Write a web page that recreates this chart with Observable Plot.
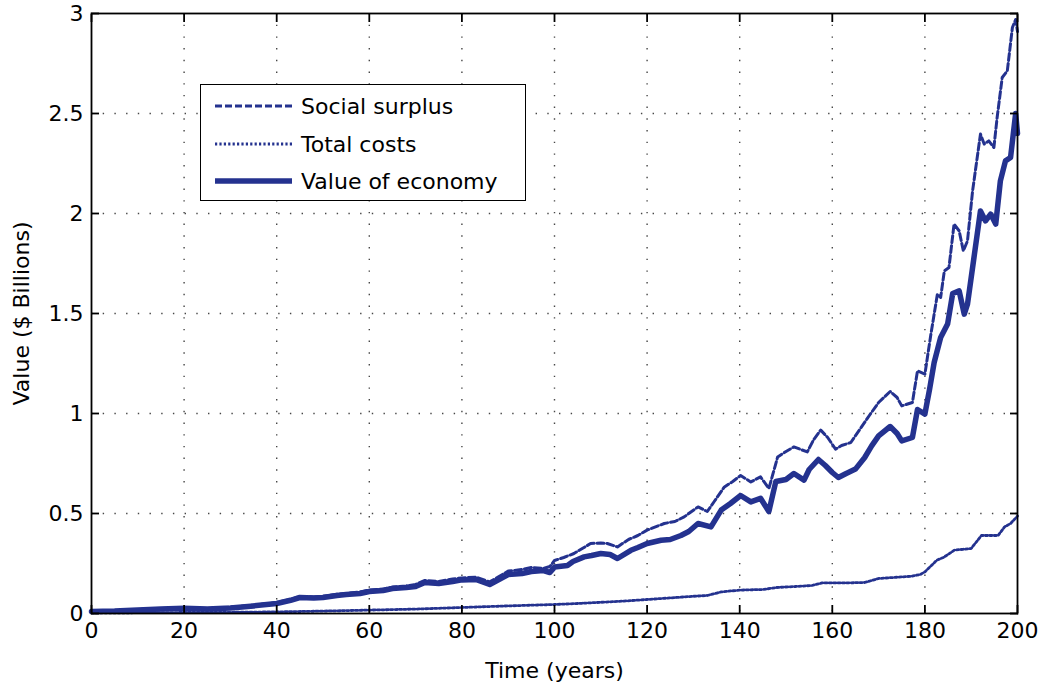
<!DOCTYPE html>
<html>
<head>
<meta charset="utf-8">
<script src="https://cdn.jsdelivr.net/npm/d3@7"></script>
<script src="https://cdn.jsdelivr.net/npm/@observablehq/plot@0.6"></script>
<style>
  html, body { margin: 0; padding: 0; background: #fff; }
  #wrap { position: relative; width: 1046px; height: 685px; font-family: "DejaVu Sans", "Liberation Sans", Arial, sans-serif; }
  #legend { position: absolute; left: 200px; top: 84px; width: 326px; height: 117px; border: 1.8px solid #000; background: #fff; box-sizing: border-box; }
  #legend .row { position: absolute; left: 0; height: 30px; display: flex; align-items: center; font-size: 22px; color: #000; white-space: nowrap; }
  #legend svg { margin-left: 14px; margin-right: 9px; }
</style>
</head>
<body>
<div id="wrap"></div>
<script>
// ---- data ----
const seriesNames = ["Social surplus", "Total costs", "Value of economy"];
const lineColor = "#24328f";

const xTicks = [0, 20, 40, 60, 80, 100, 120, 140, 160, 180, 200];
const yTicks = [0, 0.5, 1, 1.5, 2, 2.5, 3];

const yearsSurplus = [0,5,10,15,20,25,30,35,40,43,45,48,50,53,55,58,60,63,65,68,70,72,75,78,80,83,86,88,90,93,95,97.6,99,100,102,104.2,106,107.8,110,111.4,113.6,116,118,120,123.7,126,128,131,133,134.5,136.7,138.5,140.2,142.4,144.5,146.3,148.2,150,151.7,154.6,156,157.5,159,160.7,162,164,166,168,170,172.5,174,175,177.3,178.4,180,181.3,182.7,183.4,184.2,185.2,186.3,187.4,188.3,189.2,190.3,192,192.8,193.8,194.9,195.6,196.7,197.8,198.9,199.6,200];
const valuesSurplus = [0.012,0.014,0.02,0.025,0.03,0.025,0.032,0.042,0.055,0.07,0.085,0.083,0.086,0.096,0.1,0.108,0.117,0.122,0.132,0.138,0.145,0.165,0.16,0.172,0.178,0.182,0.158,0.185,0.212,0.22,0.23,0.225,0.235,0.265,0.28,0.3,0.325,0.35,0.352,0.35,0.333,0.37,0.39,0.417,0.45,0.46,0.483,0.533,0.51,0.56,0.633,0.66,0.69,0.658,0.683,0.625,0.783,0.81,0.833,0.808,0.87,0.917,0.88,0.822,0.84,0.855,0.922,0.99,1.055,1.11,1.08,1.038,1.055,1.213,1.197,1.397,1.597,1.58,1.713,1.73,1.947,1.913,1.813,1.863,2.113,2.397,2.347,2.363,2.33,2.48,2.68,2.713,2.93,2.97,2.91];

const yearsCosts = [0,10,20,30,40,50,60,70,80,90,100,105,110,115,120,125,130,133,136,140,145,148,152,155.6,157.8,163,167,170,177,179,180,182.6,184,186.4,190,192.2,195.8,197.2,198.5,200];
const valuesCosts = [0.003,0.004,0.005,0.006,0.008,0.012,0.017,0.022,0.03,0.038,0.045,0.05,0.056,0.062,0.07,0.078,0.086,0.09,0.108,0.117,0.12,0.13,0.135,0.14,0.153,0.153,0.155,0.175,0.186,0.195,0.208,0.267,0.28,0.317,0.325,0.39,0.39,0.433,0.45,0.487];

const yearsEconomy = [0,5,10,15,20,25,30,35,40,43,45,48,50,53,55,58,60,63,65,68,70,72,75,78,80,83,86,88,90,93,95,97.6,99,100,102.8,104,106.4,108,110,112,113.6,116.5,118,120,123,125,127.3,129,131,133.8,136,138,140.2,142.4,144.5,146.3,147.8,150,151.7,153.9,155,157,158.5,160,161.3,163,165,167,168.5,170,172.5,174,175,177.3,178.4,180,181,182,183.4,184.9,186,187.4,188.5,189.2,190.6,192,193.1,194.2,195.3,196.3,197.4,198.5,199.6,200];
const valuesEconomy = [0.01,0.012,0.018,0.022,0.026,0.022,0.028,0.038,0.05,0.066,0.08,0.078,0.08,0.09,0.095,0.1,0.11,0.115,0.125,0.13,0.135,0.155,0.15,0.16,0.168,0.17,0.145,0.17,0.195,0.2,0.21,0.215,0.205,0.232,0.24,0.26,0.283,0.29,0.3,0.295,0.275,0.316,0.33,0.35,0.366,0.37,0.39,0.41,0.45,0.433,0.517,0.55,0.59,0.558,0.576,0.51,0.66,0.67,0.7,0.667,0.72,0.77,0.74,0.705,0.68,0.7,0.722,0.78,0.838,0.888,0.935,0.9,0.863,0.88,1.02,0.997,1.12,1.255,1.38,1.447,1.6,1.613,1.497,1.547,1.78,2.013,1.963,1.997,1.947,2.163,2.263,2.28,2.5,2.4];

// ---- build tables ----
const surplus = yearsSurplus.map((t, i) => ({t, v: valuesSurplus[i]}));
const costs = yearsCosts.map((t, i) => ({t, v: valuesCosts[i]}));
const economy = yearsEconomy.map((t, i) => ({t, v: valuesEconomy[i]}));

const fmt = d => String(d);
const gridStyle = {stroke: "#333", strokeOpacity: 0.9, strokeWidth: 1.4, strokeDasharray: "1.4,10.3"};
const dotDash = "2.2,2.2";
const dashDash = "7,3";

const chart = Plot.plot({
  width: 1046,
  height: 685,
  marginLeft: 91,
  marginRight: 29,
  marginTop: 13,
  marginBottom: 72,
  style: {fontFamily: "'DejaVu Sans', 'Liberation Sans', Arial, sans-serif", fontSize: "22px", color: "#000", background: "#fff", overflow: "visible"},
  x: {domain: [0, 200]},
  y: {domain: [0, 3]},
  marks: [
    Plot.ruleX(xTicks.slice(1, -1), {x: d => d, ...gridStyle}),
    Plot.ruleY(yTicks.slice(1, -1), {y: d => d, ...gridStyle}),
    Plot.line(costs, {x: "t", y: "v", stroke: lineColor, strokeWidth: 2.8, strokeDasharray: dotDash}),
    Plot.line(surplus, {x: "t", y: "v", stroke: lineColor, strokeWidth: 3, strokeDasharray: dashDash, strokeLinejoin: "round"}),
    Plot.line(economy, {x: "t", y: "v", stroke: lineColor, strokeWidth: 5.5, strokeLinejoin: "round"}),
    Plot.frame({stroke: "#000", strokeWidth: 1.8}),
    Plot.axisX(xTicks, {anchor: "bottom", tickSize: 0, tickPadding: 9, tickFormat: fmt, label: "Time (years)", labelAnchor: "center", labelArrow: "none", labelOffset: 64, fontSize: 22}),
    Plot.axisX(xTicks, {anchor: "bottom", tickSize: -8, text: null, label: null, strokeWidth: 1.8}),
    Plot.axisX(xTicks, {anchor: "top", tickSize: -8, text: null, label: null, strokeWidth: 1.8}),
    Plot.axisY(yTicks, {anchor: "left", tickSize: 0, tickPadding: 8, tickFormat: fmt, label: "Value ($ Billions)", labelAnchor: "center", labelArrow: "none", labelOffset: 78, fontSize: 22}),
    Plot.axisY(yTicks, {anchor: "left", tickSize: -8, text: null, label: null, strokeWidth: 1.8}),
    Plot.axisY(yTicks, {anchor: "right", tickSize: -8, text: null, label: null, strokeWidth: 1.8})
  ]
});

const wrap = document.getElementById("wrap");
wrap.appendChild(chart);

// ---- legend (inside plot area, as in the reference) ----
const legend = document.createElement("div");
legend.id = "legend";
const styles = {"Social surplus": {w: 3, d: dashDash}, "Total costs": {w: 2.8, d: dotDash}, "Value of economy": {w: 5.5, d: null}};
const rowTops = [6, 44, 81];
seriesNames.forEach((name, i) => {
  const row = document.createElement("div");
  row.className = "row";
  row.style.top = rowTops[i] + "px";
  const s = styles[name];
  row.innerHTML = `<svg width="77" height="10"><line x1="0" x2="77" y1="5" y2="5" stroke="${lineColor}" stroke-width="${s.w}" ${s.d ? `stroke-dasharray="${s.d}"` : ""}/></svg><span>${name}</span>`;
  legend.appendChild(row);
});
wrap.appendChild(legend);
</script>
</body>
</html>
